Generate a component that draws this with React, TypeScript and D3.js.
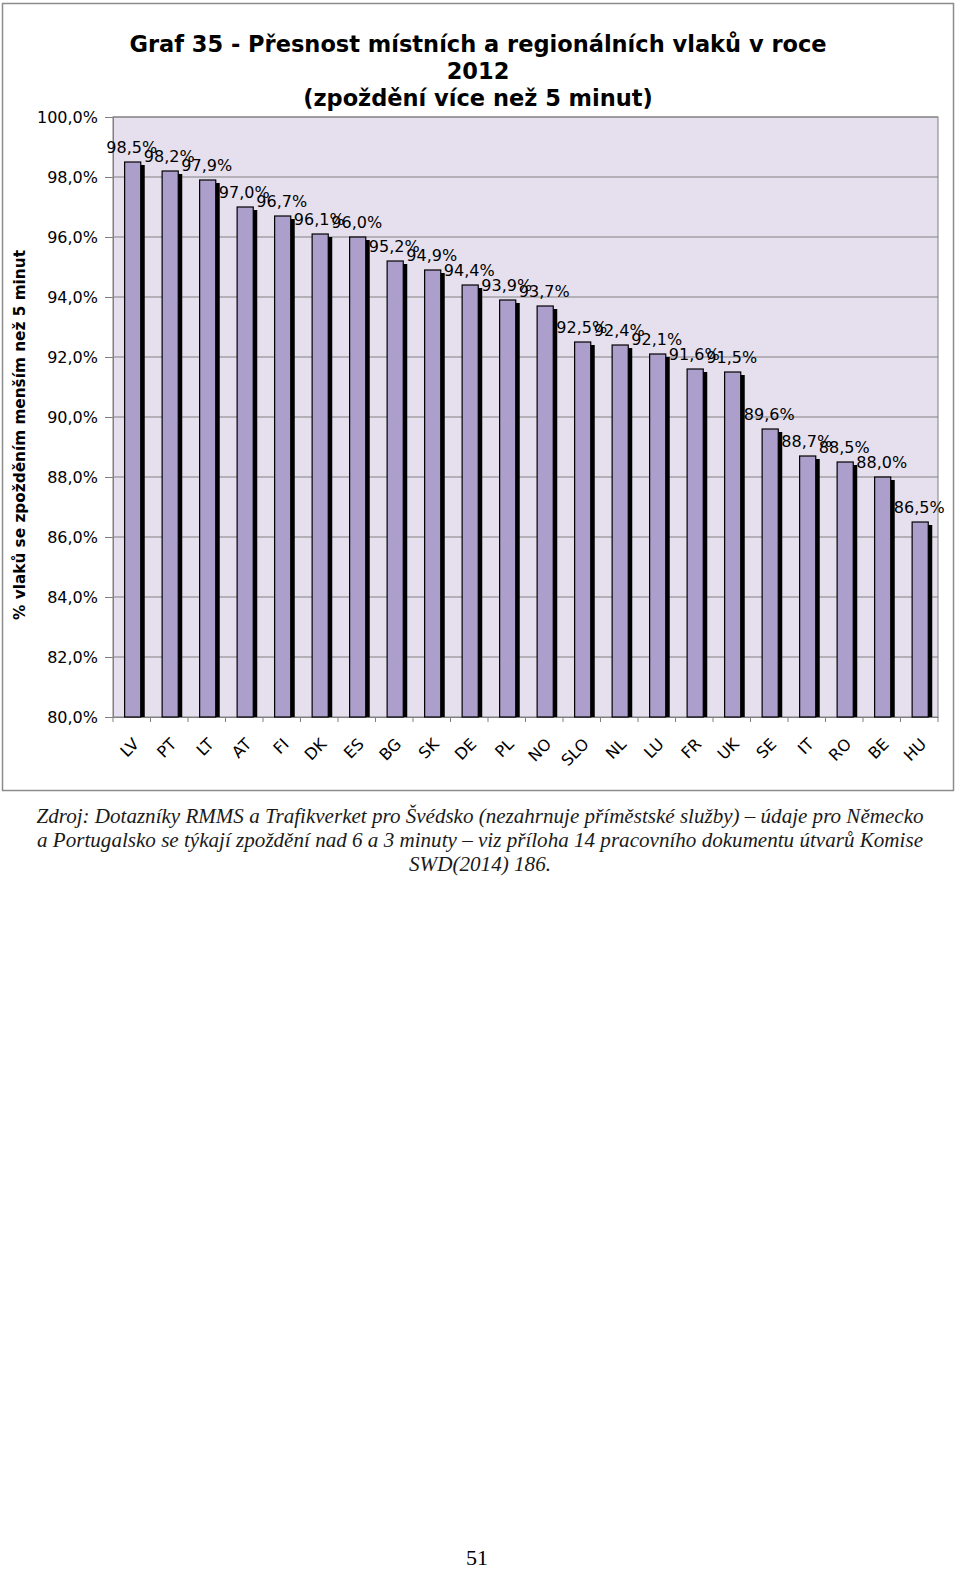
import { useEffect, useRef } from 'react';
import * as d3 from 'd3';

const countries = ['LV', 'PT', 'LT', 'AT', 'FI', 'DK', 'ES', 'BG', 'SK', 'DE', 'PL', 'NO', 'SLO', 'NL', 'LU', 'FR', 'UK', 'SE', 'IT', 'RO', 'BE', 'HU'];
const values = [98.5, 98.2, 97.9, 97.0, 96.7, 96.1, 96.0, 95.2, 94.9, 94.4, 93.9, 93.7, 92.5, 92.4, 92.1, 91.6, 91.5, 89.6, 88.7, 88.5, 88.0, 86.5];
const yTicks = [80, 82, 84, 86, 88, 90, 92, 94, 96, 98, 100];
const titleLines = ['Graf 35 - Přesnost místních a regionálních vlaků v roce', '2012', '(zpoždění více než 5 minut)'];
const yLabel = '% vlaků se zpožděním menším než 5 minut';
const sourceLines = [
    'Zdroj: Dotazníky RMMS a Trafikverket pro Švédsko (nezahrnuje příměstské služby) – údaje pro Německo',
    'a Portugalsko se týkají zpoždění nad 6 a 3 minuty – viz příloha 14 pracovního dokumentu útvarů Komise',
    'SWD(2014) 186.',
];

const fmt = (v: number) => v.toFixed(1).replace('.', ',') + '%';

export default function App() {
    const svgRef = useRef<SVGSVGElement | null>(null);
    const W = 960;
    const H = 1578;

    useEffect(() => {
        document.documentElement.style.overflow = 'hidden';
        document.body.style.margin = '0';
        if (!svgRef.current) return;
        const svg = d3.select(svgRef.current);
        svg.selectAll('*').remove();

        const left = 113, right = 938, top = 117, bottom = 717;
        const font = 'DejaVu Sans, Verdana, sans-serif';

        // chart frame
        svg.append('rect')
            .attr('x', 2.5).attr('y', 3.5)
            .attr('width', 951).attr('height', 787)
            .attr('fill', '#fff')
            .attr('stroke', '#8c8c8c')
            .attr('stroke-width', 1.5);

        const x = d3.scaleBand().domain(countries).range([left, right]);
        const y = d3.scaleLinear().domain([80, 100]).range([bottom, top]);
        const bw = x.bandwidth();

        // plot area
        svg.append('rect')
            .attr('x', left).attr('y', top)
            .attr('width', right - left).attr('height', bottom - top)
            .attr('fill', '#e6e0ee')
            .attr('stroke', '#808080');

        // gridlines
        svg.append('g').selectAll('line')
            .data(yTicks.filter(t => t > 80))
            .join('line')
            .attr('x1', left).attr('x2', right)
            .attr('y1', d => y(d)).attr('y2', d => y(d))
            .attr('stroke', '#808080')
            .attr('stroke-width', 1);

        // y axis
        const yAxis = svg.append('g')
            .attr('transform', `translate(${left},0)`)
            .call(d3.axisLeft(y).tickValues(yTicks).tickFormat(d => fmt(+d)).tickSize(8).tickPadding(7));
        yAxis.select('.domain').attr('stroke', '#808080');
        yAxis.selectAll('.tick line').attr('stroke', '#808080');
        yAxis.selectAll('.tick text')
            .attr('font-family', font).attr('font-size', 16).attr('fill', '#000');

        // x axis
        const xAxis = svg.append('g')
            .attr('transform', `translate(0,${bottom})`)
            .call(d3.axisBottom(x).tickSize(0).tickFormat(d => d as string));
        xAxis.select('.domain').attr('stroke', '#808080');
        xAxis.selectAll('.tick text')
            .attr('font-family', font).attr('font-size', 16).attr('fill', '#000')
            .attr('text-anchor', 'end')
            .attr('dy', 0)
            .attr('transform', 'translate(6,26) rotate(-45)');
        svg.append('g').selectAll('line')
            .data(countries)
            .join('line')
            .attr('x1', d => x(d)!).attr('x2', d => x(d)!)
            .attr('y1', bottom).attr('y2', bottom + 5)
            .attr('stroke', '#808080');
        svg.append('line')
            .attr('x1', right).attr('x2', right)
            .attr('y1', bottom).attr('y2', bottom + 5)
            .attr('stroke', '#808080');

        const barX = (c: string) => x(c)! + bw * 0.31;
        const barW = bw * 0.43;

        const rows = countries.map((c, i) => ({ c, v: values[i] }));

        // shadows
        svg.append('g').selectAll('rect')
            .data(rows)
            .join('rect')
            .attr('x', d => barX(d.c) + 4)
            .attr('y', d => y(d.v) + 3)
            .attr('width', barW)
            .attr('height', d => bottom - y(d.v) - 3)
            .attr('fill', '#000');

        // bars
        svg.append('g').selectAll('rect')
            .data(rows)
            .join('rect')
            .attr('x', d => barX(d.c))
            .attr('y', d => y(d.v))
            .attr('width', barW)
            .attr('height', d => bottom - y(d.v))
            .attr('fill', '#ad9fcb')
            .attr('stroke', '#000')
            .attr('stroke-width', 1.2);

        // data labels
        svg.append('g').selectAll('text')
            .data(rows)
            .join('text')
            .attr('x', d => barX(d.c) + barW / 2 - 1)
            .attr('y', d => y(d.v) - 9)
            .attr('text-anchor', 'middle')
            .attr('font-family', font)
            .attr('font-size', 16)
            .attr('fill', '#000')
            .text(d => fmt(d.v));

        // title
        svg.append('g').selectAll('text')
            .data(titleLines)
            .join('text')
            .attr('x', 478)
            .attr('y', (_, i) => 52 + i * 27)
            .attr('text-anchor', 'middle')
            .attr('font-family', font)
            .attr('font-size', 22.5)
            .attr('font-weight', 'bold')
            .attr('fill', '#000')
            .text(d => d);

        // y label
        svg.append('text')
            .attr('transform', `translate(25,435) rotate(-90)`)
            .attr('text-anchor', 'middle')
            .attr('font-family', font)
            .attr('font-size', 15.3)
            .attr('font-weight', 'bold')
            .attr('fill', '#000')
            .text(yLabel);

        // source note
        const srcWidths = [887, 886, 142];
        svg.append('g').selectAll('text')
            .data(sourceLines)
            .join('text')
            .attr('x', 480)
            .attr('y', (_, i) => 823 + i * 24)
            .attr('text-anchor', 'middle')
            .attr('font-family', 'Liberation Serif, Times New Roman, serif')
            .attr('font-style', 'italic')
            .attr('font-size', 20)
            .attr('fill', '#1a1a1a')
            .attr('textLength', (_, i) => srcWidths[i])
            .attr('lengthAdjust', 'spacingAndGlyphs')
            .text(d => d);

        // page number
        svg.append('text')
            .attr('x', 477)
            .attr('y', 1565)
            .attr('text-anchor', 'middle')
            .attr('font-family', 'Liberation Serif, Times New Roman, serif')
            .attr('font-size', 22)
            .attr('fill', '#000')
            .text('51');
    }, []);

    return (
        <svg ref={svgRef} width={W} height={H}
            style={{ position: 'absolute', left: 0, top: 0, background: '#fff' }} />
    );
}
